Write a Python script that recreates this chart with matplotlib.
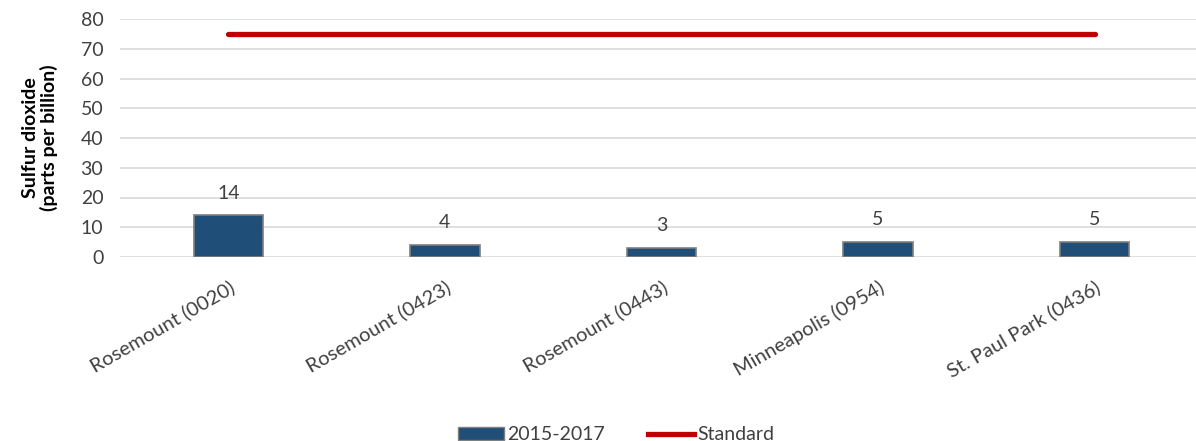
import numpy as np
import matplotlib.pyplot as plt
from matplotlib.lines import Line2D
from matplotlib.patches import Patch

plt.rcParams['font.family'] = ['Lato', 'DejaVu Sans']

sites = ['Rosemount (0020)', 'Rosemount (0423)', 'Rosemount (0443)',
         'Minneapolis (0954)', 'St. Paul Park (0436)']
values = [14, 4, 3, 5, 5]
standard = [75, 75, 75, 75, 75]

fig = plt.figure(figsize=(11.96, 4.41), dpi=100)
ax = fig.add_axes([120 / 1196, 184 / 441, 1 - 120 / 1196, 238 / 441])

x = np.arange(len(sites))
ax.bar(x, values, width=0.32, color='#1f4e79', edgecolor='#7f7f7f',
       linewidth=1.2, zorder=3)
ax.plot(x, standard, color='#c00000', linewidth=3.8, solid_capstyle='round', zorder=4)

for xi, v in zip(x, values):
    ax.text(xi, v + 4.6, str(v), ha='center', va='bottom', fontsize=14, color='#404040')

ax.set_ylim(0, 80)
ax.set_yticks(np.arange(0, 81, 10))
ax.set_xlim(-0.5, 4.468)
ax.set_xticks(x)
ax.set_xticklabels(sites, rotation=30, ha='right', rotation_mode='anchor',
                   fontsize=14.5, color='#404040')
ax.tick_params(axis='y', labelsize=14, colors='#404040', length=0, pad=12)
ax.tick_params(axis='x', length=0, pad=15)
ax.grid(axis='y', color='#d9d9d9', linewidth=1.2, zorder=0)
for s in ax.spines.values():
    s.set_visible(False)

ax.set_ylabel('Sulfur dioxide\n(parts per billion)', fontsize=14, fontweight='bold',
              color='black', labelpad=16, linespacing=1.1)

handles = [Patch(facecolor='#1f4e79', edgecolor='#7f7f7f', label='2015-2017'),
           Line2D([0], [0], color='#c00000', linewidth=3.8, label='Standard')]
fig.legend(handles=handles, loc='lower center', bbox_to_anchor=(0.515, -0.045), ncol=2,
           frameon=False, fontsize=14, handlelength=2.4, columnspacing=2.2,
           handletextpad=0.15, labelcolor='#404040')

fig.savefig('out.png', dpi=100)
